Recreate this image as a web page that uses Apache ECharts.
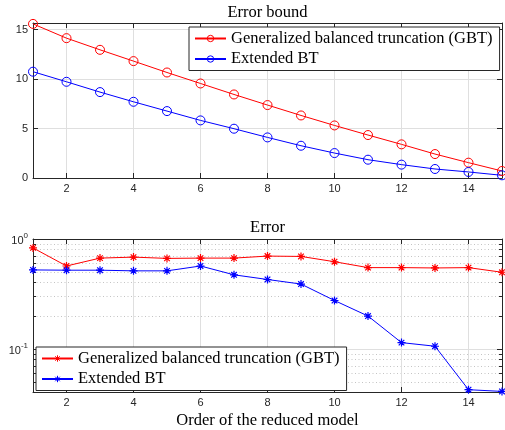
<!DOCTYPE html>
<html>
<head>
<meta charset="utf-8">
<script src="https://cdn.jsdelivr.net/npm/echarts@6/dist/echarts.min.js"></script>
<style>html,body{margin:0;padding:0;background:#fff}#c{width:505px;height:430px}</style>
</head>
<body>
<div id="c"></div>
<script>
// ---- data ----
var orders = [1,2,3,4,5,6,7,8,9,10,11,12,13,14,15];
var gbtBound = [15.57,14.13,12.95,11.81,10.66,9.55,8.44,7.37,6.32,5.31,4.34,3.40,2.42,1.55,0.71];
var extBound = [10.74,9.72,8.68,7.70,6.76,5.82,4.98,4.10,3.26,2.52,1.85,1.35,0.91,0.61,0.27];
var gbtError = [0.83,0.568,0.670,0.684,0.666,0.670,0.670,0.699,0.694,0.621,0.549,0.549,0.545,0.549,0.498];
var extError = [0.523,0.520,0.520,0.513,0.513,0.568,0.472,0.428,0.389,0.2755,0.199,0.114,0.1057,0.0425,0.041];
var xTicks = [2,4,6,8,10,12,14];
var boundTicks = [0,5,10,15];
var errMajorTicks = [0.1,1];
var errMinorTicks = [0.05,0.06,0.07,0.08,0.09,0.2,0.3,0.4,0.5,0.6,0.7,0.8,0.9];
var legendLabels = ['Generalized balanced truncation (GBT)','Extended BT'];
var titles = ['Error bound','Error'];
var xLabel = 'Order of the reduced model';

function pairs(v){ return orders.map(function(o,i){ return [o, v[i]]; }); }

var AX = '#262626';
var GRIDC = '#dfdfdf';
var SERIF = 'Liberation Serif';
var SANS = 'Liberation Sans';
var RED = '#ff0000', BLUE = '#0000ff';
var STAR = 'path://M5 0L5 10M0 5L10 5M1.5 1.5L8.5 8.5M1.5 8.5L8.5 1.5';

var nameMap = {
  'gbtB': legendLabels[0], 'extB': legendLabels[1],
  'gbtE': legendLabels[0], 'extE': legendLabels[1]
};

function xAx(grid, pos, withLabels){
  var a = {
    type: 'value', gridIndex: grid, position: pos, min: 1, max: 15,
    axisLine: {show: true, onZero: false, lineStyle: {color: AX, width: 1}},
    axisTick: {show: true, inside: true, length: 5, customValues: xTicks, lineStyle: {color: AX}},
    axisLabel: {show: withLabels, customValues: xTicks, margin: 5, color: AX, fontFamily: SANS, fontSize: 11},
    splitLine: {show: withLabels, lineStyle: {color: GRIDC, width: 1}}
  };
  return a;
}

function yLin(pos, withLabels){
  return {
    type: 'value', gridIndex: 0, position: pos, min: 0, max: 15.66,
    axisLine: {show: true, onZero: false, lineStyle: {color: AX, width: 1}},
    axisTick: {show: true, inside: true, length: 5, customValues: boundTicks, lineStyle: {color: AX}},
    axisLabel: {show: withLabels, customValues: boundTicks, margin: 5, color: AX, fontFamily: SANS, fontSize: 11},
    splitLine: {show: withLabels, lineStyle: {color: GRIDC, width: 1}}
  };
}

function yLog(pos, major, withLabels){
  var ticks = major ? errMajorTicks : errMinorTicks;
  return {
    type: 'log', logBase: 10, gridIndex: 1, position: pos, min: 0.0405, max: 1,
    axisLine: {show: major, onZero: false, lineStyle: {color: AX, width: 1}},
    axisTick: {show: true, inside: true, length: major ? 5 : 3, customValues: ticks, lineStyle: {color: AX}},
    axisLabel: {
      show: withLabels, customValues: ticks, margin: 5,
      formatter: function(v){ return '{b|10}{s|' + Math.round(Math.log10(v)) + '}'; },
      rich: {
        b: {fontFamily: SANS, fontSize: 11, color: AX, padding: [4,0,0,0]},
        s: {fontFamily: SANS, fontSize: 8, color: AX, verticalAlign: 'top'}
      }
    },
    splitLine: {
      show: withLabels || !major,
      lineStyle: major ? {color: GRIDC, width: 1} : {color: '#c4c4c4', width: 1, type: [1, 2.5]}
    }
  };
}

function legend(left, top, names){
  return {
    orient: 'vertical', left: left, top: top, data: names,
    padding: [3, 7, 3, 5], itemGap: 3.5, itemWidth: 31, itemHeight: 8,
    backgroundColor: '#fff', borderColor: AX, borderWidth: 1, borderRadius: 0,
    selectedMode: false,
    formatter: function(n){ return nameMap[n]; },
    itemStyle: {borderWidth: 1},
    textStyle: {fontFamily: SERIF, fontSize: 16.5, color: '#000'}
  };
}

function lineSeries(name, xi, yi, data, color, star){
  return {
    name: name, type: 'line', xAxisIndex: xi, yAxisIndex: yi, data: data,
    symbol: star ? STAR : 'circle', symbolSize: star ? 8 : 9,
    itemStyle: {color: star ? color : 'rgba(0,0,0,0)', borderColor: color, borderWidth: star ? 1.2 : 1},
    lineStyle: {color: color, width: 1},
    emphasis: {disabled: true}, silent: true
  };
}

var option = {
  animation: false,
  backgroundColor: '#fff',
  title: [
    {text: titles[0], left: 267.5, textAlign: 'center', top: 4, padding: 0,
     textStyle: {fontFamily: SERIF, fontSize: 16.5, fontWeight: 'normal', color: '#000'}},
    {text: titles[1], left: 267.5, textAlign: 'center', top: 219, padding: 0,
     textStyle: {fontFamily: SERIF, fontSize: 16.5, fontWeight: 'normal', color: '#000'}}
  ],
  grid: [
    {left: 33, top: 23, width: 469, height: 155, containLabel: false},
    {left: 33, top: 239, width: 469, height: 154, containLabel: false}
  ],
  xAxis: [
    xAx(0, 'bottom', true),
    xAx(0, 'top', false),
    Object.assign(xAx(1, 'bottom', true), {
      name: xLabel, nameLocation: 'middle', nameGap: 20,
      nameTextStyle: {fontFamily: SERIF, fontSize: 16.5, color: '#000'}
    }),
    xAx(1, 'top', false)
  ],
  yAxis: [
    yLin('left', true),
    yLin('right', false),
    yLog('left', true, true),
    yLog('left', false, false),
    yLog('right', true, false),
    Object.assign(yLog('right', false, false), {splitLine: {show: false}})
  ],
  legend: [
    legend(189, 27, ['gbtB','extB']),
    legend(36, 347, ['gbtE','extE'])
  ],
  series: [
    lineSeries('gbtB', 0, 0, pairs(gbtBound), RED, false),
    lineSeries('extB', 0, 0, pairs(extBound), BLUE, false),
    lineSeries('gbtE', 2, 2, pairs(gbtError), RED, true),
    lineSeries('extE', 2, 2, pairs(extError), BLUE, true)
  ]
};

var chart = echarts.init(document.getElementById('c'), null, {renderer: 'canvas'});
chart.setOption(option);
</script>
</body>
</html>
